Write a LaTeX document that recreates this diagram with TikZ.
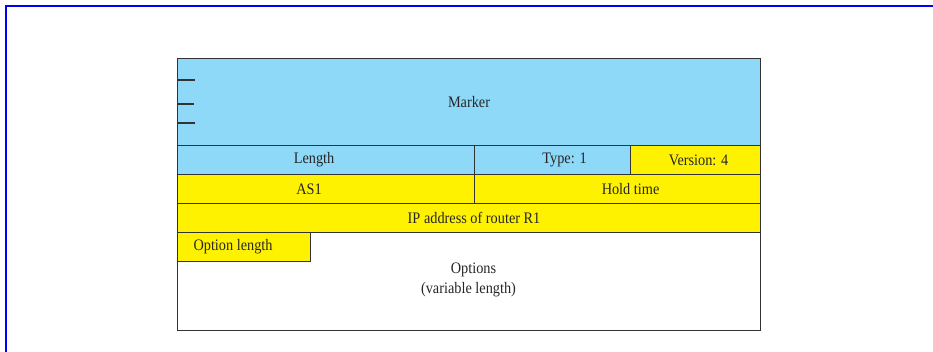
\documentclass[tikz,border=0pt]{standalone}
\usepackage{fontspec}
\usepackage{graphicx}
\setmainfont{Liberation Serif}
\definecolor{fieldblue}{HTML}{8ED8F8}
\definecolor{fieldyellow}{HTML}{FFF200}
\definecolor{rule}{HTML}{333333}
% slightly tall lettering for the field labels
\newcommand{\talltext}[1]{\scalebox{1}[1.12]{#1}}
\begin{document}
\begin{tikzpicture}[x=1pt, y=-1pt,
  label text/.style={text=black!85, font=\fontsize{14.3}{20}\selectfont, inner sep=0pt},
  field/.style={draw=rule, line width=1.1pt, anchor=north west, inner sep=0pt},
  bluefield/.style={field, fill=fieldblue},
  yellowfield/.style={field, fill=fieldyellow},
  tick/.style={draw=rule, line width=1.1pt}]
\useasboundingbox (0,0) rectangle (933,352);
% outer frame (left and top edges only)
\draw[blue, line width=2pt] (6,352) -- (6,6) -- (933,6);
% header fields
\node[bluefield, minimum width=583pt, minimum height=87pt] (marker) at (177,58) {};
\node[bluefield, minimum width=297pt, minimum height=29pt] (length) at (177,145) {};
\node[bluefield, minimum width=156pt, minimum height=29pt] (type) at (474,145) {};
\node[yellowfield, minimum width=130pt, minimum height=29pt] (version) at (630,145) {};
\node[yellowfield, minimum width=297pt, minimum height=29pt] (as1) at (177,174) {};
\node[yellowfield, minimum width=286pt, minimum height=29pt] (hold) at (474,174) {};
\node[yellowfield, minimum width=583pt, minimum height=29pt] (ip) at (177,203) {};
\node[field, fill=white, minimum width=583pt, minimum height=98pt] (options) at (177,232) {};
\node[yellowfield, minimum width=133pt, minimum height=29pt] (optlen) at (177,232) {};
% field labels
\node[label text] (markerlbl) at (marker.center) {\talltext{Marker}};
\node[label text] (lengthlbl) at ([xshift=-12pt]length.center) {\talltext{Length}};
\node[label text] (typelbl) at ([xshift=12pt]type.center) {\talltext{Type: 1}};
\node[label text] (versionlbl) at ([xshift=3pt]version.center) {\talltext{Version: 4}};
\node[label text] (as1lbl) at ([xshift=-17pt]as1.center) {\talltext{AS1}};
\node[label text] (holdlbl) at ([xshift=13pt]hold.center) {\talltext{Hold time}};
\node[label text] (iplbl) at ([xshift=5pt]ip.center) {\talltext{IP address of router R1}};
\node[label text] (optlenlbl) at ([xshift=-11pt]optlen.center) {\talltext{Option length}};
\node[label text, anchor=base] (optname) at (473.5,273) {\talltext{Options}};
\node[label text, anchor=base] (optsize) at (468.5,293) {\talltext{(variable length)}};
% marker tick marks
\draw[tick] ([yshift=-22pt]marker.north west) -- ++(18,0);
\draw[tick] ([yshift=-46pt]marker.north west) -- ++(17,0);
\draw[tick] ([yshift=-65pt]marker.north west) -- ++(18,0);
\end{tikzpicture}
\end{document}
